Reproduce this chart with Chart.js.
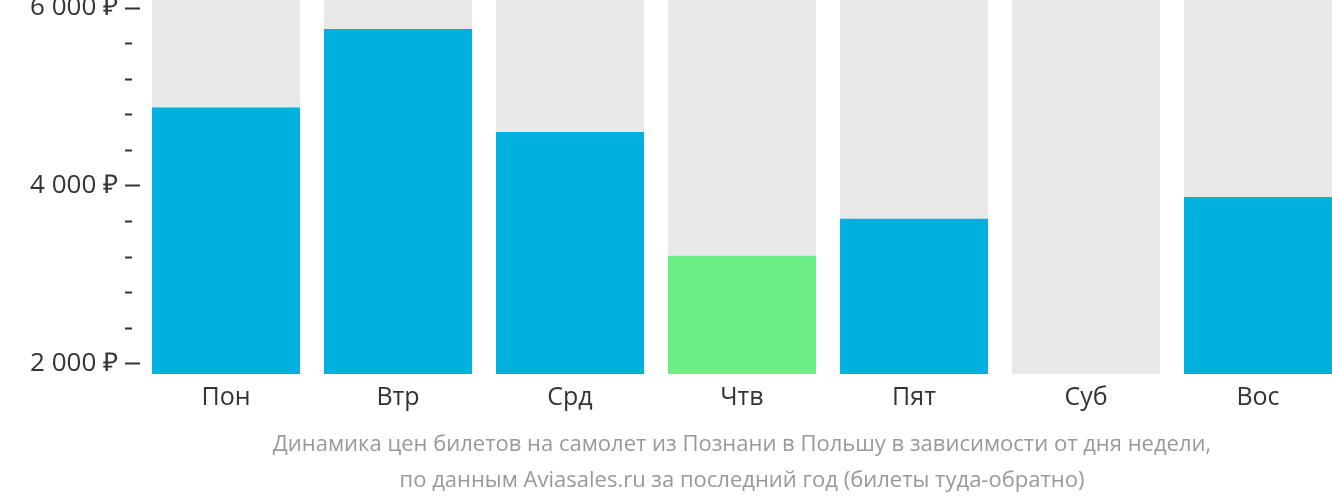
<!DOCTYPE html>
<html>
<head>
<meta charset="utf-8">
<script src="https://cdn.jsdelivr.net/npm/chart.js@4/dist/chart.umd.min.js"></script>
<style>
  html, body { margin: 0; padding: 0; background: #fff; overflow: hidden; }
  #wrap { width: 1332px; height: 502px; overflow: hidden; }
</style>
</head>
<body>
<div id="wrap"><canvas id="priceChart" width="1344" height="502"></canvas></div>
<script>
// дни недели и цены (руб.)
const days = ['Пон', 'Втр', 'Срд', 'Чтв', 'Пят', 'Суб', 'Вос'];
const prices = [4880, 5765, 4605, 3215, 3630, null, 3875];
const cheapestIndex = 3;
const yMin = 1885;
const yMax = 6090;
const bgValues = [yMax, yMax, yMax, yMax, yMax, yMax, yMax];
const tickValues = [2000, 2400, 2800, 3200, 3600, 4000, 4400, 4800, 5200, 5600, 6000];
const labelValues = [2000, 4000, 6000];

const captionLines = [
    'Динамика цен билетов на самолет из Познани в Польшу в зависимости от дня недели,',
    'по данным Aviasales.ru за последний год (билеты туда-обратно)'
];

function formatRub(v) {
    return String(v).replace(/\B(?=(\d{3})+(?!\d))/g, ' ') + ' ₽';
}

const barColors = prices.map((p, i) => i === cheapestIndex ? '#6bef86' : '#00b1dd');

const ctx = document.getElementById('priceChart');
new Chart(ctx, {
    type: 'bar',
    data: {
        labels: days,
        datasets: [{
            data: prices,
            backgroundColor: barColors,
            grouped: false,
            barPercentage: 148 / 172,
            categoryPercentage: 1
        }, {
            data: bgValues,
            backgroundColor: '#e8e8e8',
            grouped: false,
            barPercentage: 148 / 172,
            categoryPercentage: 1
        }]
    },
    options: {
        responsive: false,
        animation: false,
        layout: { padding: 0 },
        plugins: {
            legend: { display: false },
            tooltip: { enabled: false },
            title: {
                display: true,
                position: 'bottom',
                fullSize: false,
                text: captionLines,
                color: '#999',
                font: { family: 'Open Sans', size: 22, weight: 'normal', lineHeight: 36 / 22 },
                padding: { top: 5, bottom: 3 }
            }
        },
        scales: {
            x: {
                grid: { display: false, drawTicks: false },
                border: { display: false },
                ticks: {
                    color: '#333',
                    padding: 9,
                    font: { family: 'Open Sans', size: 25 }
                },
                afterFit: (scale) => { scale.paddingLeft = 0; scale.paddingRight = 0; }
            },
            y: {
                min: yMin,
                max: yMax,
                afterBuildTicks: (scale) => {
                    scale.ticks = tickValues.map(v => ({ value: v }));
                },
                afterFit: (scale) => {
                    scale.width = 140;
                    scale.paddingTop = 0;
                    scale.paddingBottom = 0;
                },
                border: { display: false },
                grid: {
                    drawOnChartArea: false,
                    drawTicks: true,
                    tickLength: 15,
                    tickWidth: 2,
                    tickColor: '#333',
                    tickBorderDash: (c) => labelValues.includes(c.tick.value) ? [] : [7, 100]
                },
                ticks: {
                    color: '#333',
                    padding: 7,
                    font: { family: 'Open Sans', size: 26 },
                    callback: (v) => labelValues.includes(v) ? formatRub(v) : ''
                }
            }
        }
    }
});
</script>
</body>
</html>
